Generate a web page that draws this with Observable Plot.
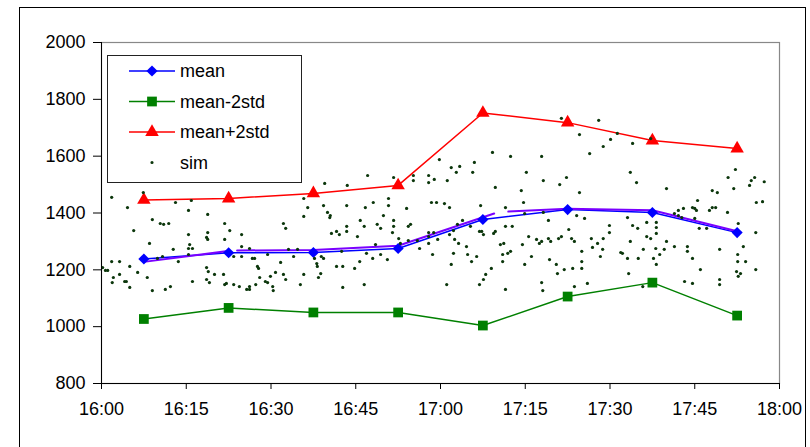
<!DOCTYPE html>
<html>
<head>
<meta charset="utf-8">
<script src="https://cdn.jsdelivr.net/npm/d3@7"></script>
<script src="https://cdn.jsdelivr.net/npm/@observablehq/plot@0.6"></script>
<style>
  html, body { margin: 0; padding: 0; background: #fff; overflow: hidden; }
  #wrap { position: relative; width: 810px; height: 447px; font-family: "Liberation Sans", Arial, sans-serif; }
  #outer { position: absolute; left: 19px; top: 7px; width: 787px; height: 470px; border: 1px solid #000; box-sizing: border-box; pointer-events: none; }
  #chart { position: absolute; left: 0; top: 0; }
  #legend { position: absolute; left: 107px; top: 55px; }
</style>
</head>
<body>
<div id="wrap">
  <div id="outer"></div>
  <div id="chart"></div>
  <div id="legend"></div>
</div>
<script>
// Time is given in minutes after 16:00
const xTickValues = [0, 15, 30, 45, 60, 75, 90, 105, 120];
const xTickLabels = ["16:00", "16:15", "16:30", "16:45", "17:00", "17:15", "17:30", "17:45", "18:00"];
const yTickValues = [800, 1000, 1200, 1400, 1600, 1800, 2000];
const yTickLabels = ["800", "1000", "1200", "1400", "1600", "1800", "2000"];

const seriesTimes = [7.5, 22.5, 37.5, 52.5, 67.5, 82.5, 97.5, 112.5];
const meanValues = [1238, 1260, 1261, 1275, 1377, 1412, 1402, 1331];
const meanMinus2std = [1027, 1066, 1050, 1050, 1004, 1106, 1155, 1039];
const meanPlus2std = [1446, 1451, 1469, 1497, 1752, 1718, 1655, 1627];

// unlabelled purple curve drawn close to the mean
const purpleTimes = [7.5, 22, 24, 37.5, 52.5, 69.5, 72, 82.5, 97.5, 112.5];
const purpleValues = [1228, 1265, 1268, 1270, 1285, 1398, 1405, 1415, 1410, 1336];
const purpleSegment = [0, 0, 1, 1, 1, 1, 2, 2, 2, 2];

// simulated points [minutes after 16:00, value]
const simPoints = [
[1.8,1455],[4.6,1419],[7.4,1472],[9.0,1377],[13.1,1437],[15.9,1444],[15.4,1409],[18.8,1395],
[35.8,1451],[36.5,1419],[35.8,1388],[39.5,1504],[39.3,1426],[40.0,1402],[40.5,1391],
[10.4,1363],[11.0,1360],[11.9,1363],[5.7,1338],[21.8,1363],[22.7,1338],[32.2,1363],[32.6,1346],
[24.8,1324],[15.4,1324],[18.8,1331],[18.6,1314],[18.8,1307],[21.8,1307],[8.5,1293],[15.6,1289],
[15.4,1275],[16.1,1275],[12.7,1272],[15.4,1254],[10.8,1247],[9.9,1240],[24.8,1282],[26.2,1275],
[23.4,1247],[24.8,1247],[26.7,1240],[27.1,1240],[29.4,1254],[33.1,1272],[34.7,1272],[34.0,1247],
[37.7,1240],[1.8,1229],[3.2,1229],[5.0,1212],[0.2,1208],[0.7,1198],[1.1,1198],[13.6,1229],
[31.7,1226],[27.6,1212],[27.8,1205],[38.1,1222],[38.2,1212],[18.6,1208],[18.9,1194],[6.4,1191],
[3.2,1184],[2.1,1173],[8.1,1173],[1.9,1155],[4.1,1159],[4.4,1159],[5.0,1138],[9.0,1127],
[11.3,1131],[12.2,1141],[16.1,1159],[18.6,1166],[19.1,1155],[20.0,1184],[21.6,1184],[21.8,1148],
[22.1,1152],[23.4,1148],[24.4,1141],[25.7,1131],[26.2,1131],[26.2,1141],[27.3,1148],[28.0,1173],
[29.0,1159],[29.4,1155],[29.9,1177],[30.8,1191],[30.3,1141],[30.4,1127],[32.2,1184],[32.6,1166],
[35.2,1148],[35.8,1184],[38.4,1173],[38.8,1187],
[40.4,1384],[43.4,1426],[46.7,1419],[48.1,1437],[50.8,1451],[50.8,1426],[49.9,1391],[51.7,1374],
[54.0,1416],[58.4,1437],[59.3,1437],[60.7,1433],[61.6,1419],[45.8,1374],[43.4,1353],[46.5,1353],
[48.8,1360],[49.4,1346],[51.7,1353],[54.3,1353],[54.7,1360],[63.9,1374],[65.3,1353],[71.5,1353],
[72.7,1353],[43.5,1497],[47.1,1532],[51.7,1525],[55.2,1532],[55.2,1514],[57.9,1532],[57.9,1507],
[58.9,1518],[59.8,1588],[61.2,1514],[61.9,1560],[62.8,1543],[63.4,1564],[65.7,1543],[66.0,1578],
[69.2,1613],[72.4,1599],[75.2,1543],[77.9,1599],[78.2,1514],[69.7,1490],[74.3,1479],[74.7,1437],
[71.5,1419],[67.1,1426],[78.2,1402],[79.1,1374],[51.5,1331],[40.7,1328],[41.6,1335],[42.1,1324],
[43.4,1335],[45.3,1317],[52.6,1310],[52.9,1293],[54.3,1303],[55.9,1303],[57.9,1331],[58.8,1331],
[57.9,1317],[59.5,1307],[61.6,1324],[62.3,1338],[63.0,1360],[66.9,1335],[67.3,1335],[67.6,1324],
[69.4,1328],[69.7,1335],[74.9,1398],[62.5,1307],[63.2,1293],[64.6,1282],[71.2,1293],[70.6,1289],
[74.5,1289],[75.6,1317],[77.0,1307],[77.9,1300],[77.5,1293],[79.5,1300],[57.9,1293],[56.3,1275],
[48.5,1289],[42.5,1265],[38.9,1247],[39.3,1240],[46.9,1258],[49.4,1254],[48.0,1240],[50.6,1236],
[45.7,1229],[44.8,1205],[41.6,1212],[42.7,1212],[58.6,1254],[62.3,1258],[64.8,1254],[66.4,1247],
[65.5,1229],[71.0,1254],[71.0,1229],[71.9,1258],[72.4,1265],[76.1,1247],[74.9,1219],[61.9,1219],
[69.0,1205],[68.0,1184],[67.6,1166],[66.9,1148],[61.1,1148],[46.5,1148],[42.7,1138],[71.5,1131],
[77.9,1155],[78.1,1127],
[81.4,1733],[88.0,1726],[84.6,1676],[91.3,1680],[90.1,1659],[88.8,1634],[94.0,1645],[86.4,1609],
[97.2,1662],[93.6,1543],[94.7,1507],[100.0,1486],[82.3,1525],[81.1,1500],[84.6,1472],[112.2,1553],
[110.9,1525],[115.6,1525],[115.0,1514],[114.7,1497],[111.9,1486],[115.9,1437],[108.1,1479],[109.0,1472],
[105.5,1444],[104.6,1419],[105.0,1416],[105.3,1409],[103.0,1416],[102.1,1409],[102.1,1391],[102.7,1384],
[101.4,1398],[108.1,1419],[108.7,1419],[107.6,1409],[110.8,1402],[105.0,1381],[112.7,1363],[84.1,1391],
[85.5,1381],[93.1,1384],[89.9,1356],[94.0,1356],[98.2,1367],[98.2,1349],[96.5,1367],[94.9,1346],
[82.7,1342],[105.8,1346],[107.1,1346],[89.9,1331],[79.1,1310],[80.9,1310],[81.4,1317],[83.2,1310],
[83.7,1300],[86.7,1310],[88.8,1310],[87.8,1293],[86.9,1279],[88.7,1272],[85.0,1265],[91.9,1261],
[92.2,1258],[88.3,1247],[93.6,1300],[96.5,1317],[97.2,1310],[98.2,1328],[100.0,1300],[95.9,1272],
[98.1,1275],[99.6,1272],[98.8,1254],[101.4,1282],[103.7,1282],[103.7,1265],[97.7,1240],[98.2,1219],
[95.0,1240],[93.1,1240],[79.3,1236],[80.5,1219],[85.0,1229],[85.0,1205],[83.4,1205],[81.9,1201],
[80.7,1187],[93.3,1187],[104.6,1240],[106.0,1201],[109.4,1272],[103.2,1159],[104.6,1152],[109.4,1166],
[109.4,1148],[113.6,1282],[112.6,1254],[112.6,1229],[114.0,1229],[115.8,1331],[115.8,1201],[112.4,1194],
[113.1,1187],[112.7,1177],[83.7,1141],[86.0,1152],[95.8,1141],[117.3,1510],[117.0,1440]
];

const colors = { mean: "#0000ff", low: "#008000", high: "#ff0000", sim: "#0b360b", purple: "#7a00ff" };

const sim = simPoints.map(([t, v]) => ({ t, v }));
const meanData = seriesTimes.map((t, i) => ({ t, v: meanValues[i] }));
const lowData = seriesTimes.map((t, i) => ({ t, v: meanMinus2std[i] }));
const highData = seriesTimes.map((t, i) => ({ t, v: meanPlus2std[i] }));
const purpleData = purpleTimes.map((t, i) => ({ t, v: purpleValues[i], s: purpleSegment[i] }));

const chart = Plot.plot({
  width: 810,
  height: 447,
  marginLeft: 101,
  marginRight: 31,
  marginTop: 42,
  marginBottom: 64,
  style: { fontFamily: "'Liberation Sans', Arial, sans-serif", fontSize: "18px", background: "transparent", color: "#000" },
  x: { domain: [0, 120] },
  y: { domain: [800, 2000] },
  marks: [
    Plot.frame({ stroke: "#888", strokeWidth: 1.2 }),
    Plot.axisX({ ticks: xTickValues, tickFormat: d => xTickLabels[xTickValues.indexOf(d)], tickSize: 6, tickPadding: 13, label: null, fontSize: 18, stroke: "#000" }),
    Plot.axisY({ ticks: yTickValues, tickFormat: d => yTickLabels[yTickValues.indexOf(d)], tickSize: 8, tickPadding: 8, label: null, fontSize: 18, stroke: "#000" }),
    Plot.line(highData, { x: "t", y: "v", stroke: colors.high, strokeWidth: 1.5 }),
    Plot.line(lowData, { x: "t", y: "v", stroke: colors.low, strokeWidth: 1.5 }),
    Plot.line(meanData, { x: "t", y: "v", stroke: colors.mean, strokeWidth: 1.5 }),
    Plot.line(purpleData, { x: "t", y: "v", z: "s", stroke: colors.purple, strokeWidth: 2 }),
    Plot.dot(meanData, { x: "t", y: "v", symbol: "diamond2", r: 5, fill: colors.mean }),
    Plot.dot(lowData, { x: "t", y: "v", symbol: "square", r: 5.5, fill: colors.low }),
    Plot.dot(highData, { x: "t", y: "v", symbol: "triangle", r: 5, fill: colors.high }),
    Plot.dot(sim, { x: "t", y: "v", r: 1.6, fill: colors.sim }),
    Plot.ruleX([0], { stroke: "#000" }),
    Plot.ruleY([800], { stroke: "#000" })
  ]
});
document.getElementById("chart").appendChild(chart);

// Legend drawn inside the plot area (top-left)
const legendItems = [
  { label: "mean", color: colors.mean, symbol: d3.symbolDiamond2, size: 80, line: true },
  { label: "mean-2std", color: colors.low, symbol: d3.symbolSquare, size: 95, line: true },
  { label: "mean+2std", color: colors.high, symbol: d3.symbolTriangle, size: 80, line: true },
  { label: "sim", color: colors.sim, symbol: d3.symbolCircle, size: 8, line: false }
];
const lg = d3.select("#legend").append("svg").attr("width", 195).attr("height", 128);
lg.append("rect").attr("x", 0.5).attr("y", 0.5).attr("width", 194).attr("height", 127)
  .attr("fill", "#fff").attr("stroke", "#222").attr("stroke-width", 1);
legendItems.forEach((it, i) => {
  const cy = 16 + i * 30.5;
  const g = lg.append("g");
  if (it.line) g.append("line").attr("x1", 22).attr("x2", 68).attr("y1", cy).attr("y2", cy)
    .attr("stroke", it.color).attr("stroke-width", 1.5);
  g.append("path").attr("d", d3.symbol(it.symbol, it.size)()).attr("transform", `translate(45,${cy})`).attr("fill", it.color);
  g.append("text").attr("x", 73).attr("y", cy).attr("dy", "0.35em")
    .attr("font-family", "'Liberation Sans', Arial, sans-serif").attr("font-size", 18).attr("fill", "#000").text(it.label);
});
</script>
</body>
</html>
